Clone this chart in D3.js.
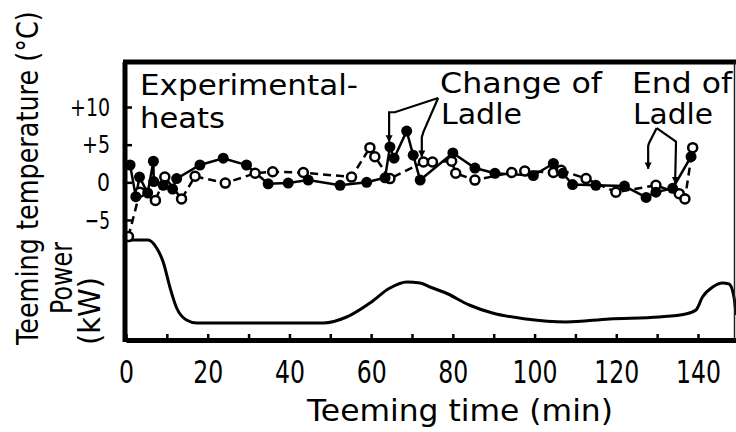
<!DOCTYPE html>
<html>
<head>
<meta charset="utf-8">
<script src="https://cdn.jsdelivr.net/npm/d3@7/dist/d3.min.js"></script>
<style>
	body { margin: 0; background: #fff; }
	svg { display: block; }
</style>
</head>
<body>
<svg id="teeming-chart" width="736" height="432"></svg>
<script>

// ---- data ----

// experimental heats, filled dots joined by a solid line
var solidTime = [1.0, 2.4, 3.3, 5.3, 6.7, 6.8, 9.1, 11.4, 12.4, 18.1, 23.8, 29.5, 34.8, 39.7, 44.6, 52.4,
	58.9, 63.4, 64.6, 65.6, 68.7, 70.3, 72.0, 80.0, 85.4, 90.3, 99.7, 104.6, 106.9, 109.3, 115.0,
	122.0, 127.3, 129.7, 133.8, 138.3];
var solidTemp = [2.3, -1.9, 0.7, -1.4, 2.8, 0.1, -0.4, -0.9, 0.5, 2.3, 3.2, 2.3, -0.2, -0.1, 0.3, -0.4,
	0.0, 0.6, 4.7, 3.2, 6.8, 3.6, 0.3, 3.9, 1.9, 1.2, 0.9, 2.5, 1.2, -0.3, -0.4,
	-0.5, -2.0, -1.3, -0.8, 3.4];

// second series, open circles joined by a dashed line
var dashedTime = [0.6, 3.4, 7.2, 9.5, 13.6, 16.9, 24.3, 31.6, 35.9, 43.4, 55.2, 59.7, 60.9, 64.6,
	72.8, 75.0, 79.7, 80.7, 85.4, 94.4, 97.6, 104.6, 106.5, 112.6, 119.9, 129.7, 135.4, 136.8, 138.7];
var dashedTemp = [-7.2, -1.3, -2.4, 0.7, -2.2, 0.8, -0.1, 1.2, 1.4, 1.3, 0.7, 4.6, 3.4, 0.5,
	2.7, 2.7, 2.8, 1.2, 0.3, 1.3, 1.5, 1.3, 1.6, 0.5, -1.3, -0.4, -1.5, -2.2, 4.6];

// heating power, no scale given on the figure (relative units)
var powerTime = [0, 5.4, 7.5, 9.1, 10.8, 12.4, 14.8, 17.3, 30, 48.3, 54, 59.7, 64.6, 68.7, 72, 74.4,
	78.3, 84, 89.7, 97.9, 107.7, 118.3, 130.5, 137, 139.5, 141.1, 143.6, 146, 147.6, 148.8, 149.3];
var powerValue = [9.9, 9.9, 9.1, 7.7, 5.1, 3.1, 1.9, 1.6, 1.6, 1.6, 2.2, 3.6, 5.1, 5.7, 5.6, 5.2,
	4.6, 3.4, 2.6, 2.0, 1.7, 2.0, 2.2, 2.5, 2.9, 4.2, 5.2, 5.6, 5.5, 4.2, 2.4];

var xTicks = [0, 10, 20, 30, 40, 50, 60, 70, 80, 90, 100, 110, 120, 130, 140];
var yTicks = [-5, 0, 5, 10];
var yTickLabels = ["\u22125", "0", "+5", "+10"];

// arrows, in (time, temperature) units
var ladleChangeArrows = [
	[[76.4, 11.2], [65.8, 9.3], [64.4, 9.3], [64.4, 5.4]],
	[[76.4, 11.2], [72.8, 6.7], [72.4, 6.0], [72.4, 3.4]]
];
var ladleEndArrows = [
	[[129.9, 7.2], [128.0, 5.2], [127.8, 4.8], [127.8, 1.8]],
	[[129.9, 7.2], [134.6, 5.4], [134.6, 4.8], [134.4, -0.1]]
];

// ---- drawing ----

var svg = d3.select("#teeming-chart");
var labelFont = "'DejaVu Sans', sans-serif";

var x = d3.scaleLinear().domain([0, 149.3]).range([126, 736]);
var yTemp = d3.scaleLinear().domain([-5, 10]).range([220, 107]);
var yPow = d3.scaleLinear().domain([0, 10]).range([339, 239]);

// frame spans roughly +16 degC down to the power baseline
var plotTop = Math.round(yTemp(16));
var plotBottom = Math.round(yPow(0)) + 1;

svg.append("defs").append("marker")
	.attr("id", "head")
	.attr("viewBox", "0 0 10 10")
	.attr("refX", 9)
	.attr("refY", 5)
	.attr("markerWidth", 7)
	.attr("markerHeight", 9)
	.attr("markerUnits", "userSpaceOnUse")
	.attr("orient", "auto")
	.append("path")
	.attr("d", "M0,0L10,5L0,10Z")
	.attr("fill", "#000");

// x axis, ticks point inward, labels every 20 min
var xAxis = d3.axisBottom(x)
	.tickValues(xTicks)
	.tickSizeInner(-6)
	.tickSizeOuter(0)
	.tickPadding(20)
	.tickFormat(function(d) { return d % 20 === 0 ? d : ""; });

var gx = svg.append("g")
	.attr("transform", "translate(0," + plotBottom + ")")
	.call(xAxis);
gx.select(".domain").attr("stroke-width", 5);
gx.selectAll(".tick line").attr("stroke-width", 2.5);
gx.selectAll("text")
	.style("font-family", labelFont)
	.style("font-size", "32px")
	.attr("fill", "#000")
	.attr("lengthAdjust", "spacingAndGlyphs")
	.attr("textLength", function(d) { return d % 20 === 0 ? String(d).length * 15 : null; });

// temperature axis; labels end at x = 110
var yLabelWidths = [25, 13, 28, 40];

var yAxis = d3.axisLeft(yTemp)
	.tickValues(yTicks)
	.tickSizeInner(-6)
	.tickSizeOuter(0)
	.tickPadding(16)
	.tickFormat(function(d, i) { return yTickLabels[i]; });

var gy = svg.append("g")
	.attr("transform", "translate(126,0)")
	.call(yAxis);
gy.select(".domain").remove();
gy.selectAll(".tick line").attr("stroke-width", 2.5);
gy.selectAll("text")
	.style("font-family", labelFont)
	.style("font-size", "25px")
	.attr("fill", "#000")
	.attr("text-anchor", "start")
	.attr("x", function(d, i) { return -16 - yLabelWidths[i]; })
	.attr("lengthAdjust", "spacingAndGlyphs")
	.attr("textLength", function(d, i) { return yLabelWidths[i]; });

// power curve
var powerLine = d3.line()
	.x(function(d, i) { return x(powerTime[i]); })
	.y(function(d) { return yPow(d); })
	.curve(d3.curveMonotoneX);

svg.append("path")
	.attr("d", powerLine(powerValue))
	.attr("fill", "none")
	.attr("stroke", "#000")
	.attr("stroke-width", 3);

// temperature series
var dashedPts = dashedTime.map(function(t, i) { return [t, dashedTemp[i]]; });
var solidPts = solidTime.map(function(t, i) { return [t, solidTemp[i]]; });

var tempLine = d3.line()
	.x(function(d) { return x(d[0]); })
	.y(function(d) { return yTemp(d[1]); });

svg.append("path")
	.attr("d", tempLine(dashedPts))
	.attr("fill", "none")
	.attr("stroke", "#000")
	.attr("stroke-width", 2.5)
	.attr("stroke-dasharray", "8,5");

svg.append("path")
	.attr("d", tempLine(solidPts))
	.attr("fill", "none")
	.attr("stroke", "#000")
	.attr("stroke-width", 2.5);

svg.selectAll(".open")
	.data(dashedPts)
	.enter()
	.append("circle")
	.attr("class", "open")
	.attr("cx", function(d) { return x(d[0]); })
	.attr("cy", function(d) { return yTemp(d[1]); })
	.attr("r", 4.5)
	.attr("fill", "#fff")
	.attr("stroke", "#000")
	.attr("stroke-width", 2.5);

svg.selectAll(".filled")
	.data(solidPts)
	.enter()
	.append("circle")
	.attr("class", "filled")
	.attr("cx", function(d) { return x(d[0]); })
	.attr("cy", function(d) { return yTemp(d[1]); })
	.attr("r", 5.5)
	.attr("fill", "#000");

// annotation arrows
svg.selectAll(".arrow")
	.data(ladleChangeArrows.concat(ladleEndArrows))
	.enter()
	.append("path")
	.attr("class", "arrow")
	.attr("d", tempLine)
	.attr("fill", "none")
	.attr("stroke", "#000")
	.attr("stroke-width", 2.2)
	.attr("marker-end", "url(#head)");

// frame drawn last: heavy top and left edges, thin right edge
svg.append("line")
	.attr("class", "frame-top")
	.attr("x1", 123)
	.attr("y1", plotTop)
	.attr("x2", 736)
	.attr("y2", plotTop)
	.style("stroke", "#000")
	.style("stroke-width", "5px");

svg.append("line")
	.attr("class", "frame-left")
	.attr("x1", 125)
	.attr("y1", plotTop)
	.attr("x2", 125)
	.attr("y2", plotBottom + 2)
	.style("stroke", "#000")
	.style("stroke-width", "5px");

svg.append("line")
	.attr("class", "frame-right")
	.attr("x1", 734.5)
	.attr("y1", plotTop)
	.attr("x2", 734.5)
	.attr("y2", plotBottom)
	.style("stroke", "#222")
	.style("stroke-width", "1.5px");

// texts
function addText(txt, px, py, size, len) {
	return svg.append("text")
		.attr("x", px)
		.attr("y", py)
		.attr("textLength", len)
		.attr("lengthAdjust", "spacingAndGlyphs")
		.style("font-family", labelFont)
		.style("font-size", size + "px")
		.attr("fill", "#000")
		.text(txt);
}

addText("Experimental-", 140, 95, 28, 218);
addText("heats", 140, 128, 28, 85);
addText("Change of", 440, 93, 29, 162);
addText("Ladle", 441, 124, 29, 81);
addText("End of", 632, 93, 29, 100);
addText("Ladle", 633, 124, 29, 80);

addText("Teeming time (min)", 307, 421, 30, 306);

// rotated labels are squeezed with a scale so their box matches what is drawn
function addVertical(txt, px, py, size, len) {
	var t = svg.append("text")
		.style("font-family", labelFont)
		.style("font-size", size + "px")
		.attr("fill", "#000")
		.text(txt);
	var natural = t.node().getComputedTextLength();
	var sx = natural > 0 ? len / natural : 1;
	t.attr("transform", "translate(" + px + "," + py + ") rotate(-90) scale(" + sx + ",1)");
	return t;
}

addVertical("Teeming temperature (\u00b0C)", 38, 345, 30, 334);
addVertical("Power", 72, 314, 30, 72);
addVertical("(kW)", 100, 345, 30, 68);

</script>
</body>
</html>
